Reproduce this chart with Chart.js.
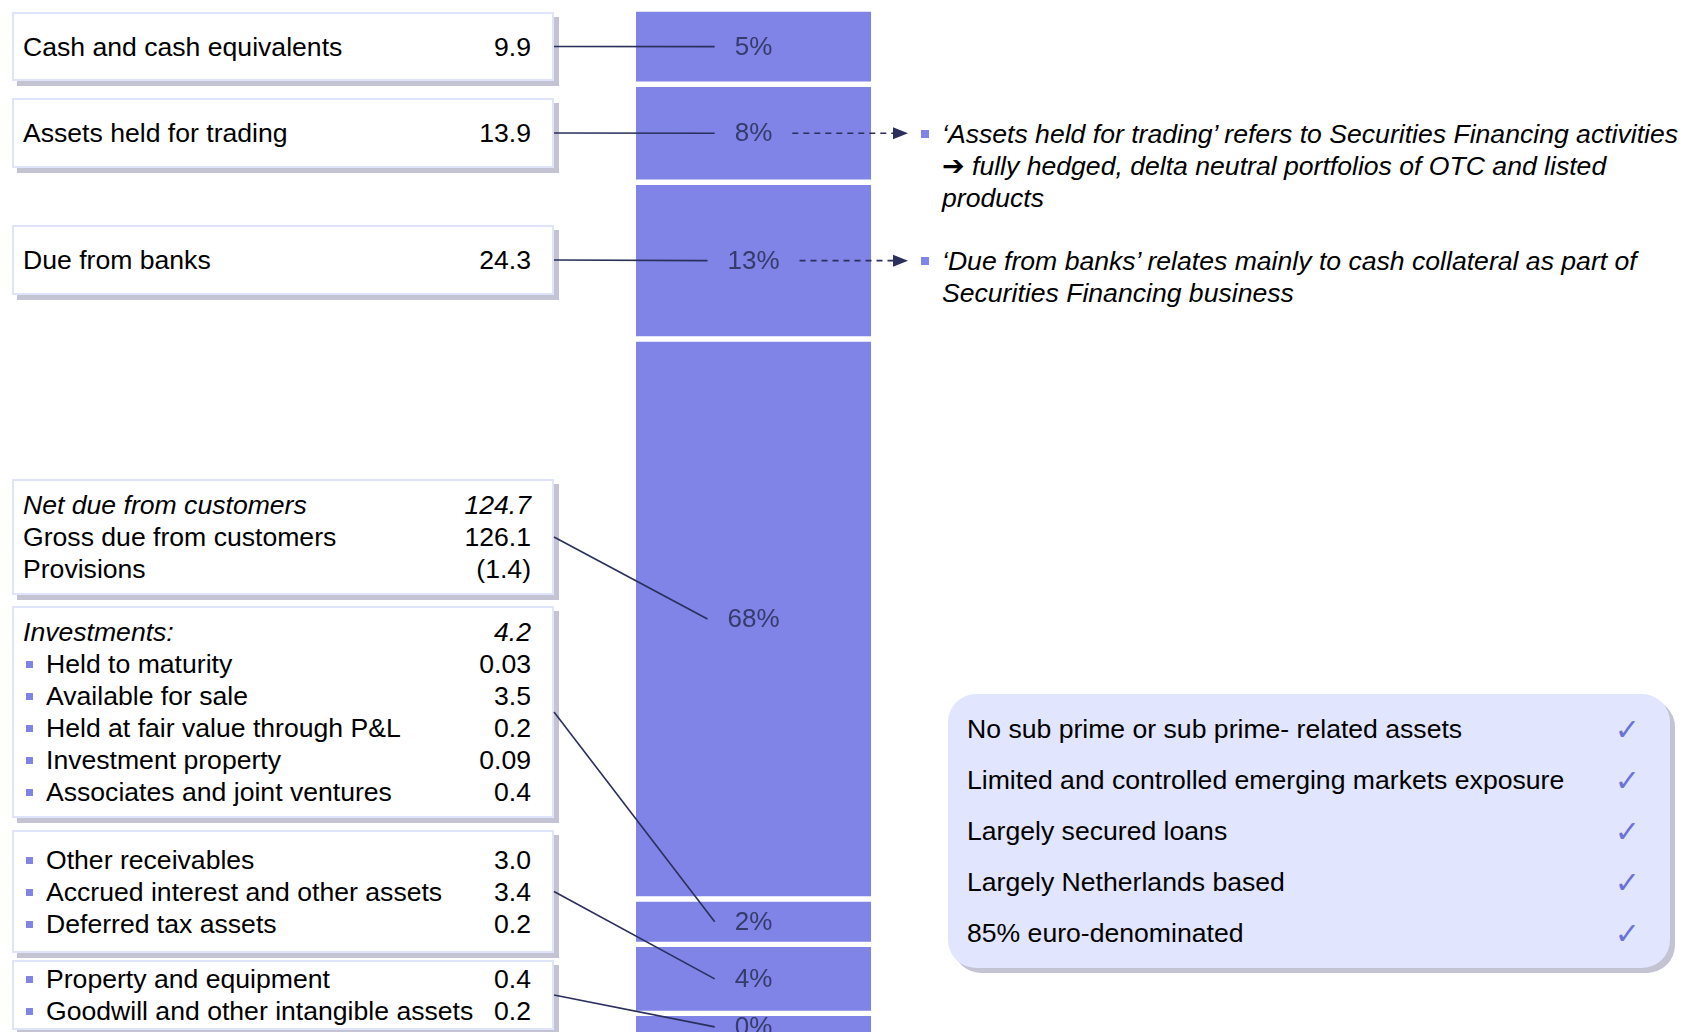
<!DOCTYPE html>
<html>
<head>
<meta charset="utf-8">
<title>Total assets breakdown</title>
<script src="https://cdn.jsdelivr.net/npm/chart.js"></script>
<style>
  body { margin: 0; width: 1683px; height: 1032px; overflow: hidden; background: #fff;
         font-family: "Liberation Sans", Arial, sans-serif; font-size: 26.6px; color: #000; }
  #chart { position: absolute; left: 0; top: 0; z-index: 2; pointer-events: none; }
  .box { position: absolute; left: 12px; width: 542px; box-sizing: border-box; background: #fff;
         border: 2px solid #dfe4fb; box-shadow: 5px 5px 0 #c3c3d3; padding: 0 21px 0 9px;
         display: flex; flex-direction: column; justify-content: center; }
  .row { display: flex; justify-content: space-between; height: 32px; line-height: 32px; white-space: nowrap; }
  .row.b { padding-left: 3px; }
  .sq { display: inline-block; width: 7px; height: 7px; background: #7f84e6; margin-right: 13px; vertical-align: 5px; }
  .it { font-style: italic; }
  .note { position: absolute; left: 921px; font-style: italic; line-height: 32px; white-space: nowrap; }
  .note .sq { position: absolute; left: 0; top: 12px; width: 8px; height: 8px; margin: 0; }
  .note p { margin: 0 0 0 21px; }
  .arrow { font-family: "DejaVu Sans", sans-serif; font-style: normal; font-weight: bold; font-size: 27px; }
  .checks { position: absolute; left: 948px; top: 694px; width: 722px; height: 274px; box-sizing: border-box;
            background: #e1e5fd; border-radius: 28px; box-shadow: 5px 5px 0 #c3c3d3;
            padding: 0 30px 0 19px; display: flex; flex-direction: column; justify-content: center; }
  .checks .row { height: 51px; line-height: 51px; }
  .tick { color: #6d72d8; font-family: "DejaVu Sans", sans-serif; font-size: 30px; font-weight: bold; }
</style>
</head>
<body>
  <canvas id="chart" width="1683" height="1032"></canvas>

  <div class="box" style="top:12px; height:69px;">
    <div class="row" data-seg="0"><span>Cash and cash equivalents</span><span>9.9</span></div>
  </div>
  <div class="box" style="top:98px; height:70px;">
    <div class="row" data-seg="1"><span>Assets held for trading</span><span>13.9</span></div>
  </div>
  <div class="box" style="top:225px; height:70px;">
    <div class="row" data-seg="2"><span>Due from banks</span><span>24.3</span></div>
  </div>
  <div class="box" style="top:479px; height:116px;">
    <div class="row it"><span>Net due from customers</span><span>124.7</span></div>
    <div class="row" data-seg="3"><span>Gross due from customers</span><span>126.1</span></div>
    <div class="row"><span>Provisions</span><span>(1.4)</span></div>
  </div>
  <div class="box" style="top:606px; height:212px;">
    <div class="row it"><span>Investments:</span><span>4.2</span></div>
    <div class="row b"><span><i class="sq"></i>Held to maturity</span><span>0.03</span></div>
    <div class="row b" data-seg="4" data-at="bottom"><span><i class="sq"></i>Available for sale</span><span>3.5</span></div>
    <div class="row b"><span><i class="sq"></i>Held at fair value through P&amp;L</span><span>0.2</span></div>
    <div class="row b"><span><i class="sq"></i>Investment property</span><span>0.09</span></div>
    <div class="row b"><span><i class="sq"></i>Associates and joint ventures</span><span>0.4</span></div>
  </div>
  <div class="box" style="top:830px; height:123px;">
    <div class="row b"><span><i class="sq"></i>Other receivables</span><span>3.0</span></div>
    <div class="row b" data-seg="5"><span><i class="sq"></i>Accrued interest and other assets</span><span>3.4</span></div>
    <div class="row b"><span><i class="sq"></i>Deferred tax assets</span><span>0.2</span></div>
  </div>
  <div class="box" style="top:960px; height:70px;">
    <div class="row b" data-seg="6" data-at="bottom"><span><i class="sq"></i>Property and equipment</span><span>0.4</span></div>
    <div class="row b"><span><i class="sq"></i>Goodwill and other intangible assets</span><span>0.2</span></div>
  </div>

  <div class="note" id="note1" style="top:118px;">
    <i class="sq"></i>
    <p>‘Assets held for trading’ refers to Securities Financing activities</p>
    <p><span class="arrow">➔</span> fully hedged, delta neutral portfolios of OTC and listed</p>
    <p>products</p>
  </div>
  <div class="note" id="note2" style="top:245px;">
    <i class="sq"></i>
    <p>‘Due from banks’ relates mainly to cash collateral as part of</p>
    <p>Securities Financing business</p>
  </div>

  <div class="checks">
    <div class="row"><span>No sub prime or sub prime- related assets</span><span class="tick">✓</span></div>
    <div class="row"><span>Limited and controlled emerging markets exposure</span><span class="tick">✓</span></div>
    <div class="row"><span>Largely secured loans</span><span class="tick">✓</span></div>
    <div class="row"><span>Largely Netherlands based</span><span class="tick">✓</span></div>
    <div class="row"><span>85% euro-denominated</span><span class="tick">✓</span></div>
  </div>

  <script>
    // share of total assets, as printed on each segment
    const shareLabels = ['5%', '8%', '13%', '68%', '2%', '4%', '0%'];
    // segment heights as drawn on the slide, % of the column (the slide does not draw them to scale)
    const drawnHeights = [7.3, 9.5, 15.2, 54.3, 4.4, 6.7, 2.6];
    // part of the column that is visible on the page
    const visibleMax = 99.2;
    // segments that have a dashed arrow to a note
    const noteLinks = [[1, 'note1'], [2, 'note2']];

    const INK = '#2a2f5c';

    const segmentLabels = {
      id: 'segmentLabels',
      afterDatasetsDraw(chart) {
        const ctx = chart.ctx;
        ctx.save();
        ctx.font = '26px "Liberation Sans", Arial, sans-serif';
        ctx.textAlign = 'center';
        ctx.textBaseline = 'middle';
        const ends = [];
        shareLabels.forEach((txt, i) => {
          const el = chart.getDatasetMeta(i).data[0];
          const cy = (el.y + el.base) / 2;
          const w = ctx.measureText(txt).width;
          ctx.fillStyle = '#363b6b';
          ctx.fillText(txt, el.x, cy + 1);
          ends.push({ left: el.x - w / 2 - 20, right: el.x + w / 2 + 20, y: cy });
        });

        // connectors from the boxes on the left
        ctx.strokeStyle = INK;
        ctx.lineWidth = 1.6;
        document.querySelectorAll('[data-seg]').forEach(row => {
          const seg = +row.dataset.seg;
          const r = row.getBoundingClientRect();
          const box = row.closest('.box').getBoundingClientRect();
          const y0 = row.dataset.at === 'bottom' ? r.bottom : r.top + r.height / 2;
          ctx.beginPath();
          ctx.moveTo(box.right, y0);
          ctx.lineTo(ends[seg].left, ends[seg].y);
          ctx.stroke();
        });

        // dashed arrows to the notes
        noteLinks.forEach(([seg, id]) => {
          const sq = document.querySelector('#' + id + ' .sq').getBoundingClientRect();
          const tip = sq.left - 13;
          const y = ends[seg].y;
          ctx.setLineDash([6, 5]);
          ctx.beginPath();
          ctx.moveTo(ends[seg].right, y);
          ctx.lineTo(tip - 14, y);
          ctx.stroke();
          ctx.setLineDash([]);
          ctx.fillStyle = INK;
          ctx.beginPath();
          ctx.moveTo(tip, y);
          ctx.lineTo(tip - 15, y - 6);
          ctx.lineTo(tip - 15, y + 6);
          ctx.closePath();
          ctx.fill();
        });
        ctx.restore();
      }
    };

    const chart = new Chart(document.getElementById('chart'), {
      type: 'bar',
      data: {
        labels: ['Total assets'],
        datasets: drawnHeights.map(h => ({
          data: [h],
          backgroundColor: '#7f84e6',
          borderColor: '#ffffff',
          borderWidth: { top: 3, bottom: 3, left: 0, right: 0 },
          borderSkipped: false,
          barPercentage: 1,
          categoryPercentage: 1,
          stack: 'assets'
        }))
      },
      options: {
        responsive: false,
        animation: false,
        layout: { padding: { left: 636, right: 812, top: 9, bottom: 0 } },
        scales: {
          x: { display: false, stacked: true },
          y: { display: false, stacked: true, reverse: true, min: 0, max: visibleMax }
        },
        plugins: { legend: { display: false }, tooltip: { enabled: false } }
      },
      plugins: [segmentLabels]
    });
  </script>
</body>
</html>
